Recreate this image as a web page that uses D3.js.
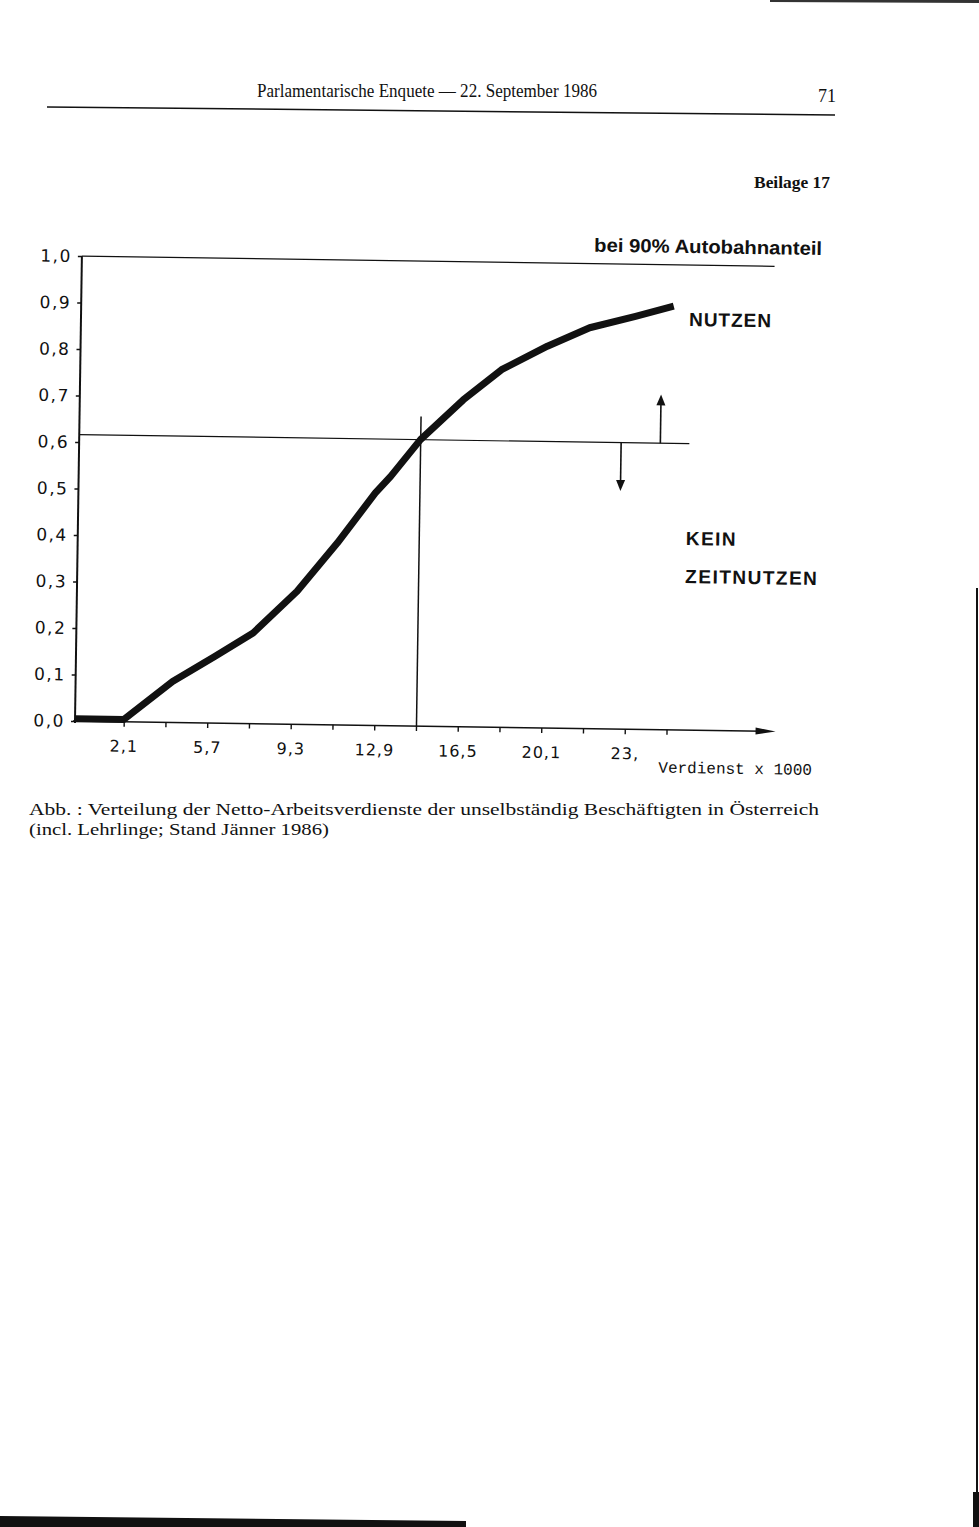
<!DOCTYPE html>
<html><head><meta charset="utf-8">
<script src="https://cdn.jsdelivr.net/npm/d3@7"></script>
<style>html,body{margin:0;padding:0;background:#fff;} svg{display:block}</style>
</head><body>
<svg id="c" width="979" height="1527"></svg>
<script>
// ---- data ----
const earnings = [0, 2.1, 4.18, 5.98, 7.62, 9.49, 11.19, 12.8, 13.45, 14.71, 16.53, 18.16, 20.12, 21.93, 23.9, 25.54];
const benefit  = [0.005, 0.005, 0.088, 0.143, 0.195, 0.286, 0.391, 0.5, 0.536, 0.616, 0.703, 0.769, 0.821, 0.862, 0.888, 0.911];
const xTickValues = [2.1, 3.9, 5.7, 7.5, 9.3, 11.1, 12.9, 14.7, 16.5, 18.3, 20.1, 21.9, 23.7, 25.5];
const xLabelValues = [2.1, 5.7, 9.3, 12.9, 16.5, 20.1, 23.7];
const xTickLabels = ["2,1", "5,7", "9,3", "12,9", "16,5", "20,1", "23,"];
const yTickValues = [0, 0.1, 0.2, 0.3, 0.4, 0.5, 0.6, 0.7, 0.8, 0.9, 1.0];
const yTickLabels = ["0,0", "0,1", "0,2", "0,3", "0,4", "0,5", "0,6", "0,7", "0,8", "0,9", "1,0"];
const threshold = 0.616, thresholdEnd = 26.3;
const markerX = 14.72, markerTop = 0.666;
const upArrowX = 25.05, upArrowTop = 0.721;
const downArrowX = 23.36, downArrowBottom = 0.512;
const xAxisEnd = 30.2, topLineEnd = 29.86;

const svg = d3.select("#c");
const ink = "#111";

// page header
svg.append("text").attr("x", 257).attr("y", 97).attr("font-family", "Liberation Serif")
  .attr("font-size", 18).attr("fill", ink).attr("textLength", 340).attr("lengthAdjust", "spacingAndGlyphs")
  .text("Parlamentarische Enquete — 22. September 1986");
svg.append("text").attr("x", 818).attr("y", 102).attr("font-family", "Liberation Serif")
  .attr("font-size", 18).attr("fill", ink).text("71");
svg.append("line").attr("x1", 47).attr("y1", 107).attr("x2", 835).attr("y2", 115)
  .attr("stroke", ink).attr("stroke-width", 1.5);
svg.append("text").attr("x", 754).attr("y", 188).attr("font-family", "Liberation Serif")
  .attr("font-weight", "bold").attr("font-size", 16).attr("fill", ink)
  .attr("textLength", 76).attr("lengthAdjust", "spacingAndGlyphs").text("Beilage 17");

// chart
const x = d3.scaleLinear().domain([0, 30]).range([0, 696]);
const y = d3.scaleLinear().domain([0, 1]).range([0, -465]);
const g = svg.append("g").attr("transform", "translate(75,721) rotate(0.85)");

// top line and threshold line
g.append("line").attr("x1", x(0)).attr("x2", x(topLineEnd)).attr("y1", y(1)).attr("y2", y(1))
  .attr("stroke", ink).attr("stroke-width", 1.3);
g.append("line").attr("x1", x(0)).attr("x2", x(thresholdEnd)).attr("y1", y(threshold)).attr("y2", y(threshold))
  .attr("stroke", ink).attr("stroke-width", 1.2);
g.append("line").attr("x1", x(markerX)).attr("x2", x(markerX)).attr("y1", y(0)).attr("y2", y(markerTop))
  .attr("stroke", ink).attr("stroke-width", 1.5);

// arrows
g.append("line").attr("x1", x(upArrowX)).attr("x2", x(upArrowX)).attr("y1", y(threshold)).attr("y2", y(upArrowTop) + 8)
  .attr("stroke", ink).attr("stroke-width", 1.6);
g.append("path").attr("d", `M${x(upArrowX)},${y(upArrowTop)} L${x(upArrowX) - 4.5},${y(upArrowTop) + 11} L${x(upArrowX) + 4.5},${y(upArrowTop) + 11} Z`)
  .attr("fill", ink);
g.append("line").attr("x1", x(downArrowX)).attr("x2", x(downArrowX)).attr("y1", y(threshold)).attr("y2", y(downArrowBottom) - 8)
  .attr("stroke", ink).attr("stroke-width", 1.6);
g.append("path").attr("d", `M${x(downArrowX)},${y(downArrowBottom)} L${x(downArrowX) - 4.5},${y(downArrowBottom) - 11} L${x(downArrowX) + 4.5},${y(downArrowBottom) - 11} Z`)
  .attr("fill", ink);

// axes lines
g.append("line").attr("x1", x(0)).attr("x2", x(0)).attr("y1", y(0) + 2).attr("y2", y(1))
  .attr("stroke", ink).attr("stroke-width", 2);
g.append("line").attr("x1", x(0) - 2).attr("x2", x(xAxisEnd) - 10).attr("y1", 0).attr("y2", 0)
  .attr("stroke", ink).attr("stroke-width", 1.5);
g.append("path").attr("d", `M${x(xAxisEnd)},0 L${x(xAxisEnd) - 20},-3.5 L${x(xAxisEnd) - 20},3.5 Z`).attr("fill", ink);

// x ticks
const xt = g.append("g").call(d3.axisBottom(x).tickValues(xTickValues).tickSize(5).tickFormat(""));
xt.select(".domain").remove();
xt.selectAll(".tick line").attr("stroke", ink).attr("stroke-width", 1.4);
const xl = g.append("g").call(d3.axisBottom(x).tickValues(xLabelValues).tickSize(0).tickFormat((d, i) => xTickLabels[i]));
xl.select(".domain").remove();
xl.selectAll(".tick text").attr("y", 30).attr("dy", 0).attr("font-family", "DejaVu Sans")
  .attr("font-size", 16).attr("letter-spacing", 1).attr("fill", ink);

// y ticks
const yt = g.append("g").call(d3.axisLeft(y).tickValues(yTickValues).tickSize(4).tickPadding(6).tickFormat((d, i) => yTickLabels[i]));
yt.select(".domain").remove();
yt.selectAll(".tick line").attr("stroke", ink).attr("stroke-width", 1.4);
yt.selectAll(".tick text").attr("font-family", "DejaVu Sans").attr("font-size", 17)
  .attr("letter-spacing", 1.5).attr("fill", ink);

// curve
const line = d3.line().x((d, i) => x(earnings[i])).y((d, i) => y(benefit[i])).curve(d3.curveLinear);
g.append("path").datum(benefit).attr("d", line).attr("fill", "none").attr("stroke", ink)
  .attr("stroke-width", 7).attr("stroke-linejoin", "round");

// annotations
g.append("text").attr("x", 512).attr("y", -477).attr("font-family", "Liberation Sans").attr("font-weight", "bold")
  .attr("font-size", 19).attr("fill", ink).attr("textLength", 228).attr("lengthAdjust", "spacingAndGlyphs")
  .text("bei 90% Autobahnanteil");
g.append("text").attr("x", 608).attr("y", -404).attr("font-family", "Liberation Sans").attr("font-weight", "bold")
  .attr("font-size", 19).attr("letter-spacing", 1).attr("fill", ink).text("NUTZEN");
g.append("text").attr("x", 608).attr("y", -185).attr("font-family", "Liberation Sans").attr("font-weight", "bold")
  .attr("font-size", 19).attr("letter-spacing", 1.5).attr("fill", ink).text("KEIN");
g.append("text").attr("x", 608).attr("y", -147).attr("font-family", "Liberation Sans").attr("font-weight", "bold")
  .attr("font-size", 19).attr("letter-spacing", 1.5).attr("fill", ink).text("ZEITNUTZEN");
g.append("text").attr("x", 584).attr("y", 43).attr("font-family", "Liberation Mono")
  .attr("font-size", 16).attr("fill", ink).text("Verdienst x 1000");

// caption
svg.append("text").attr("x", 29).attr("y", 815).attr("font-family", "Liberation Serif").attr("font-size", 17)
  .attr("fill", ink).attr("textLength", 790).attr("lengthAdjust", "spacingAndGlyphs")
  .text("Abb. : Verteilung der Netto-Arbeitsverdienste der unselbständig Beschäftigten in Österreich");
svg.append("text").attr("x", 29).attr("y", 835).attr("font-family", "Liberation Serif").attr("font-size", 17)
  .attr("fill", ink).attr("textLength", 300).attr("lengthAdjust", "spacingAndGlyphs")
  .text("(incl. Lehrlinge; Stand Jänner 1986)");

// scan edges
svg.append("path").attr("d", "M770,0 L979,0 L979,3 L770,2 Z").attr("fill", "#333");
svg.append("rect").attr("x", 976).attr("y", 588).attr("width", 2).attr("height", 939).attr("fill", ink);
svg.append("rect").attr("x", 973).attr("y", 1492).attr("width", 6).attr("height", 35).attr("fill", ink);
svg.append("path").attr("d", "M0,1516 L466,1521 L466,1527 L0,1527 Z").attr("fill", ink);
</script>
</body></html>
